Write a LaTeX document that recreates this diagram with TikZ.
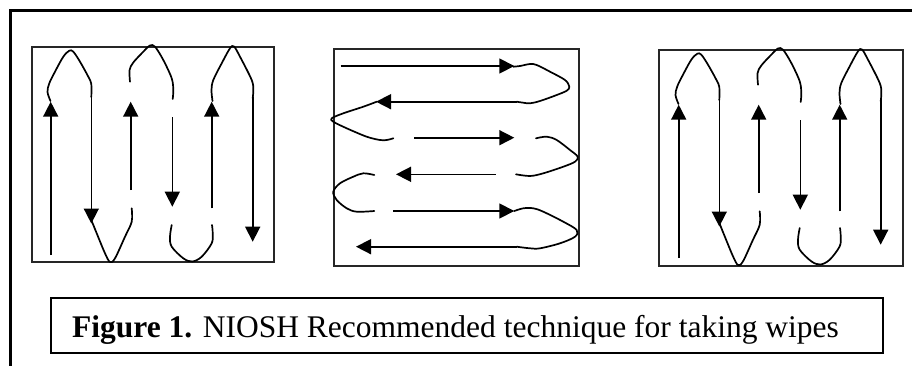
\documentclass[tikz,border=0pt]{standalone}
\usepackage{fontspec}
\setmainfont{Liberation Serif}
\usetikzlibrary{arrows.meta}
\begin{document}
\begin{tikzpicture}[x=1pt,y=-1pt,
  frame/.style={line width=3pt},
  panel/.style={draw=black!85, line width=1.8pt, inner sep=0pt, anchor=north west},
  capbox/.style={draw, line width=2.2pt, inner sep=0pt, anchor=north west},
  stroke/.style={line width=1.7pt, line join=round, line cap=round},
  arr/.style={line width=1.6pt, -{Triangle[length=15pt,width=15pt]}},
  curve/.style={stroke, smooth, tension=0.55},
  % up-and-down wiping pattern, drawn for the left panel
  vwipe/.pic={
    % first stroke pair
    \draw[arr] (50.7,255) -- (50.7,101.7);
    \draw[curve] plot coordinates {(50.5,101) (47.5,92) (49.3,83.3) (55,71.7) (63.3,56.7) (69.3,50.7) (73.3,51.7) (80,61.7) (88.3,76.7) (91.3,84) (91.3,97)};
    \draw[arr] (91.3,96) -- (91.3,223.5);
    \draw[curve] plot coordinates {(90,216.7) (96.7,233.3) (105,253.3) (110,262) (115,258.3) (125,236.7) (131.7,221.7) (131.7,208.3)};
    % second stroke pair
    \draw[arr] (130.7,190) -- (130.7,101.7);
    \draw[curve] plot coordinates {(130,81.7) (129.6,70) (133.3,62.5) (143.3,51.7) (150,45.5) (155,46.7) (163.3,60) (171.7,78.3) (173.3,90) (172.7,99)};
    \draw[arr] (172.3,117) -- (172.3,206.7);
    \draw[curve] plot coordinates {(171.7,225) (170,236.7) (171.7,246.7) (183.3,258.3) (192.3,261.5) (201.7,256.7) (211.7,243.3) (212.7,233.3) (212,225)};
    % third stroke pair
    \draw[arr] (211.7,208.3) -- (211.7,101.7);
    \draw[curve] plot coordinates {(212.5,101) (211.5,90) (213.3,80) (221.7,63.3) (230,48.3) (234,46.5) (240,56.7) (251.7,80) (253.3,90) (252.7,98.3)};
    \draw[arr] (252.7,97) -- (252.7,241.7);
  }]
\useasboundingbox (0,0) rectangle (912,365);

% outer frame (open to the right and below)
\coordinate (fb) at (10,367);
\coordinate (fc) at (10,10);
\coordinate (fr) at (914,10);
\draw[frame] (fb) -- (fc) -- (fr);

% the three panels
\node[panel, minimum width=242pt, minimum height=214.7pt] (p1) at (30.7,46) {};
\node[panel, minimum width=245pt, minimum height=216.7pt] (p2) at (333.3,48.3) {};
\node[panel, minimum width=244pt, minimum height=216pt] (p3) at (658,49) {};

% vertical wiping, left and right panels
\pic at (0,0) {vwipe};
\pic at (628,3) {vwipe};

% horizontal wiping, middle panel
\draw[arr] (340.7,66) -- (514.3,66);
\draw[curve] plot coordinates {(513.3,66.7) (520,66) (530,64) (536.7,65) (550,71.7) (565,80) (569.3,86.7) (566.7,90.7) (556.7,95) (540,101) (530,103.3) (523.3,102.7) (516.7,101.7)};
\draw[arr] (516.7,101.7) -- (376,101.7);
\draw[curve] plot coordinates {(376.7,101.7) (363.3,106.7) (343.3,113.3) (331.7,118.3) (333.3,121.7) (346.7,128.3) (366.7,136.7) (380,140) (386.7,140) (393.3,138.3)};
\draw[arr] (414,137.7) -- (514.3,137.7);
\draw[curve] plot coordinates {(536,138.3) (546.7,136.7) (556.7,140) (570,150) (577.7,156.7) (575,161.7) (563.3,166.7) (543.3,173.3) (530,176) (516,174.3)};
\draw[arr] (495.7,174.3) -- (396,174.3);
\draw[curve] plot coordinates {(374.3,175) (363.3,173.3) (353.3,176.7) (340,183.3) (333.3,191.7) (336.7,200) (346.7,208.3) (356.7,211.7) (374.3,211)};
\draw[arr] (393.3,211) -- (514.3,211);
\draw[curve] plot coordinates {(514.3,211) (523.3,208.3) (533.3,208.3) (543.3,211.7) (563.3,221.7) (576.7,230) (575,236.7) (560,243.3) (540,248.3) (530,248.3) (516.7,246.7)};
\draw[arr] (516.7,246.7) -- (356,246.7);

% caption
\node[capbox, minimum width=832pt, minimum height=55pt] (cap) at (50,297) {};
\node[anchor=base west, inner sep=0pt] (captext) at (72,337)
  {\fontsize{31.5pt}{36pt}\selectfont\textbf{Figure 1.} NIOSH Recommended technique for taking wipes};
\end{tikzpicture}
\end{document}
